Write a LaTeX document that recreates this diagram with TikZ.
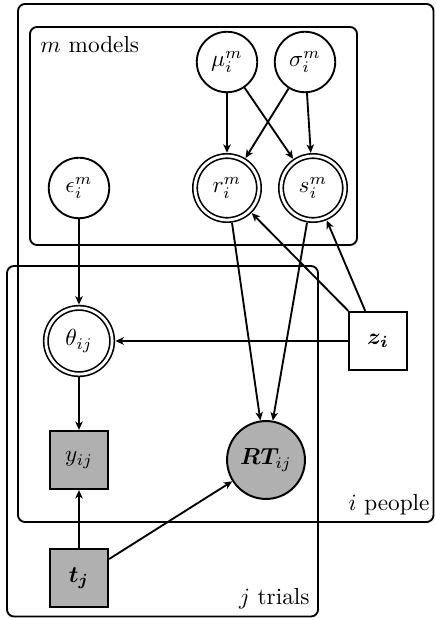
\documentclass[tikz,border=0pt]{standalone}
\usepackage{amsmath,bm}
\usetikzlibrary{arrows.meta}
\begin{document}
\begin{tikzpicture}[x=0.43pt,y=-0.43pt,
  latent/.style={circle,draw,line width=0.8pt,minimum size=26pt,inner sep=0pt,fill=white},
  detnode/.style={circle,draw,line width=0.7pt,double,double distance=1.2pt,minimum size=27.5pt,inner sep=0pt,outer sep=1.4pt},
  obsbox/.style={rectangle,draw,line width=1.1pt,minimum size=24.8pt,inner sep=0pt,fill=gray!62},
  obscirc/.style={circle,draw,line width=0.85pt,minimum size=33.5pt,inner sep=0pt,fill=gray!62},
  fixbox/.style={rectangle,draw,line width=1.1pt,minimum size=24.8pt,inner sep=0pt,fill=white},
  plate/.style={draw,line width=0.8pt,rounded corners=3pt},
  platelabel/.style={inner sep=0pt},
  edge/.style={-{Stealth[length=3.6pt,width=3.2pt,inset=1pt]},line width=0.8pt}
]
\useasboundingbox (0,0) rectangle (435,618);

% plates
\draw[plate] (18,4) rectangle (433.5,522);
\draw[plate] (30,27) rectangle (357,245);
\draw[plate] (7,266) rectangle (318,616.5);

\node[platelabel,anchor=base west] (lm) at (40,53) {$m$ models};
\node[platelabel,anchor=base east] (li) at (430,510) {$i$ people};
\node[platelabel,anchor=base east] (lj) at (310,604) {$j$ trials};

% nodes
\node[latent] (mu) at (227,62) {$\mu_i^m$};
\node[latent] (sigma) at (305,62) {$\sigma_i^m$};
\node[detnode] (r) at (227,188) {$r_i^m$};
\node[detnode] (s) at (313,188) {$s_i^m$};
\node[latent] (eps) at (79,188) {$\epsilon_i^m$};
\node[detnode,minimum size=28.5pt] (theta) at (79,341) {$\theta_{ij}$};
\node[fixbox] (z) at (378,341) {$\bm{z_i}$};
\node[obsbox] (y) at (79,460) {$y_{ij}$};
\node[obscirc] (RT) at (266,460) {$\bm{RT}_{ij}$};
\node[obsbox] (t) at (79,578) {$\bm{t_j}$};

% edges
\draw[edge] (mu) -- (r);
\draw[edge] (mu) -- (s);
\draw[edge] (sigma) -- (r);
\draw[edge] (sigma) -- (s);
\draw[edge] (eps) -- (theta);
\draw[edge] (r) -- (RT);
\draw[edge] (s) -- (RT);
\draw[edge] (z) -- (r);
\draw[edge] (z) -- (s);
\draw[edge] (z) -- (theta);
\draw[edge] (theta) -- (y);
\draw[edge] (t) -- (y);
\draw[edge] (t) -- (RT);
\end{tikzpicture}
\end{document}
